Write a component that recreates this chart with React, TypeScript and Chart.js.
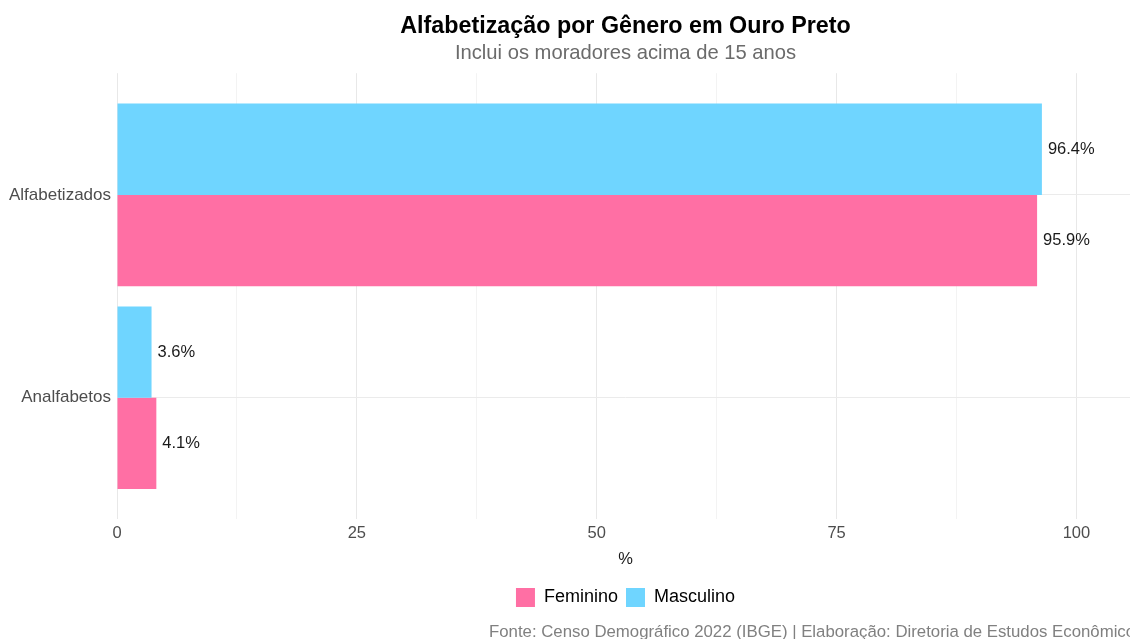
import React, { useEffect, useRef } from 'react';
import { Chart, registerables } from 'chart.js';

Chart.register(...registerables);

const categories = ['Alfabetizados', 'Analfabetos'];
const categoryPositions = [1, 2];
const masculino = [96.4, 3.6];
const feminino = [95.9, 4.1];
const xTicks = [0, 12.5, 25, 37.5, 50, 62.5, 75, 87.5, 100];
const xMax = 106;
const titleText = 'Alfabetização por Gênero em Ouro Preto';
const subtitleText = 'Inclui os moradores acima de 15 anos';
const captionText = 'Fonte: Censo Demográfico 2022 (IBGE) | Elaboração: Diretoria de Estudos Econômicos';

const FONT = '"Liberation Sans", Arial, sans-serif';
const PINK = '#FF6FA4';
const BLUE = '#6FD5FF';

const valueLabels = {
  id: 'valueLabels',
  afterDatasetsDraw(chart: any) {
    const ctx = chart.ctx;
    ctx.save();
    ctx.font = `16.5px ${FONT}`;
    ctx.fillStyle = '#1a1a1a';
    ctx.textBaseline = 'middle';
    ctx.textAlign = 'left';
    chart.data.datasets.forEach((ds: any, i: number) => {
      const meta = chart.getDatasetMeta(i);
      meta.data.forEach((el: any, j: number) => {
        const v = ds.data[j].x;
        ctx.fillText(`${v.toFixed(1)}%`, el.x + 6, el.y);
      });
    });
    ctx.restore();
  },
};

const captionPlugin = {
  id: 'captionPlugin',
  afterDraw(chart: any) {
    const ctx = chart.ctx;
    ctx.save();
    ctx.font = `16.8px ${FONT}`;
    ctx.fillStyle = '#808080';
    ctx.textBaseline = 'middle';
    ctx.textAlign = 'left';
    ctx.fillText(captionText, 489, 632);
    ctx.restore();
  },
};

export default function App() {
  const canvasRef = useRef<HTMLCanvasElement>(null);

  useEffect(() => {
    document.body.style.margin = '0';
    const canvas = canvasRef.current;
    if (!canvas) return;
    const chart = new Chart(canvas, {
      type: 'bar',
      data: {
        datasets: [
          {
            label: 'Masculino',
            data: masculino.map((v, i) => ({ x: v, y: categoryPositions[i] })),
            backgroundColor: BLUE,
            borderWidth: 0,
          },
          {
            label: 'Feminino',
            data: feminino.map((v, i) => ({ x: v, y: categoryPositions[i] })),
            backgroundColor: PINK,
            borderWidth: 0,
          },
        ],
      },
      options: {
        indexAxis: 'y',
        responsive: false,
        animation: false,
        events: [],
        datasets: {
          bar: { categoryPercentage: 0.9, barPercentage: 1 },
        },
        layout: { padding: { top: 0, bottom: 22, left: 0, right: 0 } },
        scales: {
          x: {
            type: 'linear',
            min: 0,
            max: xMax,
            offset: false,
            afterBuildTicks: (axis: any) => {
              axis.ticks = xTicks.map((v) => ({ value: v }));
            },
            ticks: {
              autoSkip: false,
              maxRotation: 0,
              padding: 4,
              color: '#4d4d4d',
              font: { family: FONT, size: 16.5 },
              callback: (v: any) => (Number(v) % 25 === 0 ? String(v) : ''),
            },
            grid: {
              offset: false,
              drawTicks: false,
              color: (c: any) => (c.tick && c.tick.value % 25 === 0 ? '#e8e8e8' : '#f3f3f3'),
              lineWidth: 1,
            },
            border: { display: false },
            title: {
              display: true,
              text: '%',
              color: '#1a1a1a',
              font: { family: FONT, size: 16.5 },
              padding: { top: 2, bottom: 11 },
            },
          },
          y: {
            type: 'linear',
            min: 0.4,
            max: 2.6,
            reverse: true,
            offset: false,
            afterBuildTicks: (axis: any) => {
              axis.ticks = categoryPositions.map((v) => ({ value: v }));
            },
            afterFit: (axis: any) => {
              axis.width = 117;
            },
            ticks: {
              autoSkip: false,
              padding: 6,
              color: '#4d4d4d',
              font: { family: FONT, size: 17 },
              callback: (v: any) => categories[categoryPositions.indexOf(Number(v))] ?? '',
            },
            grid: { offset: false, drawTicks: false, color: '#ebebeb', lineWidth: 1 },
            border: { display: false },
          },
        },
        plugins: {
          title: {
            display: true,
            text: titleText,
            fullSize: false,
            color: '#000',
            font: { family: FONT, size: 23.3, weight: 'bold' },
            padding: { top: 13, bottom: 0 },
          },
          subtitle: {
            display: true,
            text: subtitleText,
            fullSize: false,
            color: '#6b6b6b',
            font: { family: FONT, size: 20.2 },
            padding: { top: 0, bottom: 8 },
          },
          legend: {
            display: true,
            position: 'bottom',
            fullSize: false,
            reverse: true,
            labels: {
              boxWidth: 19,
              boxHeight: 19,
              padding: 8,
              color: '#000',
              font: { family: FONT, size: 18 },
            },
          },
          tooltip: { enabled: false },
        },
      } as any,
      plugins: [valueLabels, captionPlugin],
    });
    return () => chart.destroy();
  }, []);

  return (
    <div style={{ width: 1130, height: 639, position: 'relative', overflow: 'hidden' }}>
      <canvas ref={canvasRef} width={1134} height={639} style={{ display: 'block' }} />
    </div>
  );
}
